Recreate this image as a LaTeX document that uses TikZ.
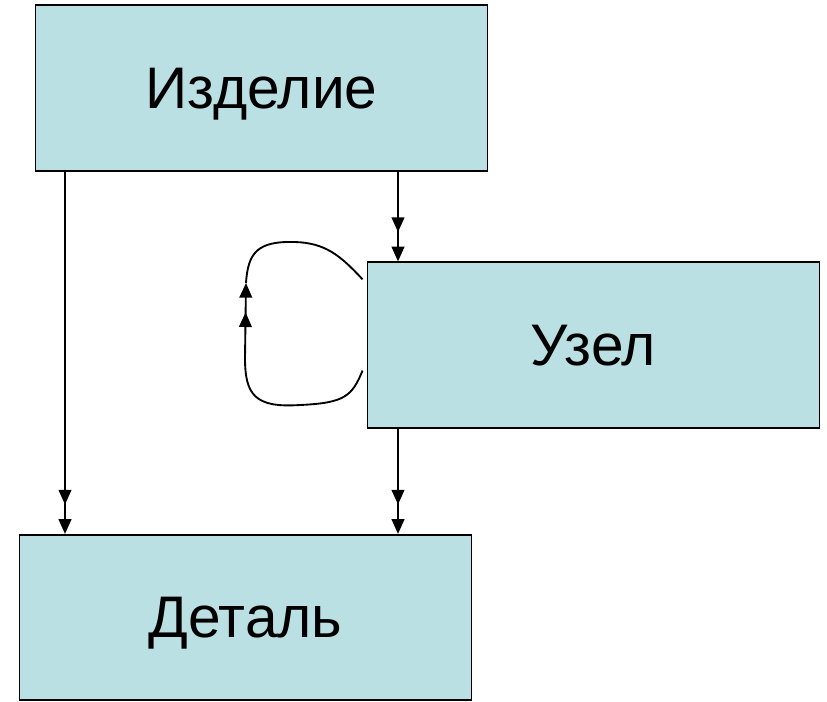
\documentclass[tikz,border=0pt]{standalone}
\usepackage{fontspec}
\setmainfont{Liberation Sans}
\usetikzlibrary{calc,arrows.meta,decorations.markings}
\definecolor{boxfill}{RGB}{187,224,227}
\tikzset{
	part/.style={draw=black, line width=1.4pt, fill=boxfill, minimum width=339pt,
		minimum height=124pt, inner sep=0pt, text depth=0pt,
		font=\fontsize{44}{52}\selectfont},
	link/.style={line width=1.4pt, -{Triangle[length=11pt,width=9.5pt]},
		postaction={decorate}, decoration={markings,
		mark=at position -22pt with {\arrow{Triangle[length=11pt,width=9.5pt]}}}},
	loopline/.style={line width=1.4pt}
}

\begin{document}
\begin{tikzpicture}[x=0.75pt, y=-0.75pt]
	%%%%% START %%%%%
	\useasboundingbox (0, 0) rectangle (827, 702);
	
	\node[part] (izd) at (261.5, 88) {Изделие};
	\node[part] (uzel) at (593.5, 345) {Узел};
	\node[part] (det) at (245.5, 617.5) {Деталь};
	
	\coordinate (xl) at (65, 0);
	\coordinate (xr) at (398, 0);
	
	\draw[link] (izd.south -| xl) -- (det.north -| xl);
	\draw[link] (izd.south -| xr) -- (uzel.north -| xr);
	\draw[link] (uzel.south -| xr) -- (det.north -| xr);
	
	% loop on Узел
	\coordinate (lpa) at ($(uzel.south west)+(-4, -58)$);
	\coordinate (lpb) at ($(uzel.north west)+(-4, 18)$);
	\coordinate (lpc) at (245, 358);
	\coordinate (lpd) at (246, 283);
	\draw[loopline] (lpa) .. controls (352, 396) and (345, 403) .. (300, 405)
		.. controls (255, 408) and (245, 395) .. (lpc);
	\draw[link] (lpc) -- (lpd);
	\draw[loopline] (lpd) .. controls (248, 252) and (258, 241) .. (295, 242)
		.. controls (325, 243) and (340, 255) .. (lpb);
	
	%%%%% END %%%%%
\end{tikzpicture}
\end{document}
